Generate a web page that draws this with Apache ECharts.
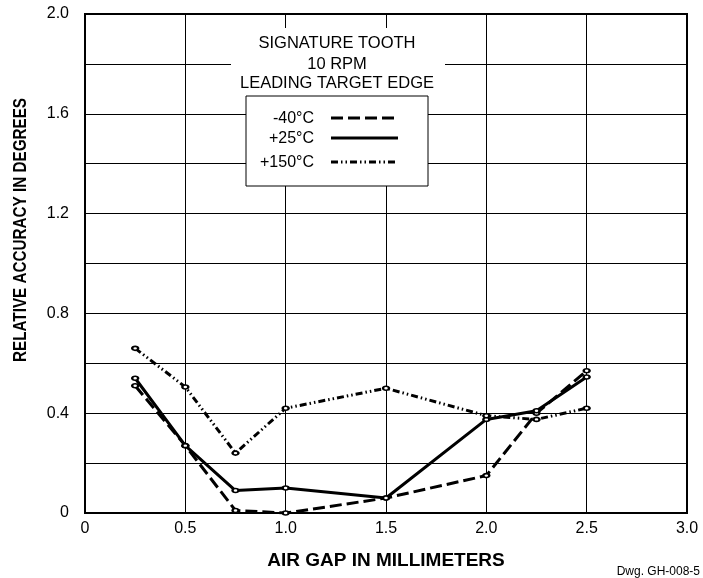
<!DOCTYPE html>
<html><head><meta charset="utf-8">
<script src="https://cdn.jsdelivr.net/npm/echarts@6/dist/echarts.min.js"></script>
<style>html,body{margin:0;padding:0;background:#fff}#c{width:703px;height:578px}</style>
</head><body><div id="c"></div>
<script>
const airGap = [0.25, 0.5, 0.75, 1.0, 1.5, 2.0, 2.25, 2.5];
const minus40 = [0.51, 0.27, 0.01, 0.00, 0.06, 0.15, 0.40, 0.57];
const plus25 = [0.54, 0.27, 0.09, 0.10, 0.06, 0.375, 0.41, 0.545];
const plus150 = [0.66, 0.505, 0.24, 0.42, 0.50, 0.39, 0.375, 0.42];
const seriesNames = ['-40°C', '+25°C', '+150°C'];
const titleLines = ['SIGNATURE TOOTH', '10 RPM', 'LEADING TARGET EDGE'];
const xTitle = 'AIR GAP IN MILLIMETERS';
const yTitle = 'RELATIVE ACCURACY IN DEGREES';
const dwgNote = 'Dwg. GH-008-5';

const F = '"Liberation Sans", Arial, sans-serif';
const pair = (ys) => airGap.map((x, i) => [x, ys[i]]);
const dashes = [[12, 5], null, [7, 3, 1.5, 3, 1.5, 3]];

// measure to condense the y title to the reference length
const cv = document.createElement('canvas').getContext('2d');
cv.font = 'bold 19px ' + F;
const yScale = 264 / cv.measureText(yTitle).width;

const chart = echarts.init(document.getElementById('c'), null, {renderer: 'canvas'});
const mk = (name, ys, dash) => ({
  name, type: 'line', data: pair(ys),
  symbol: 'emptyCircle', symbolSize: [6, 4],
  itemStyle: {color: '#000', borderWidth: 0.8},
  lineStyle: {color: '#000', width: 3, type: dash || 'solid'},
  z: 3, animation: false
});
const legY = [119, 139, 163];
const graphic = [
  {type: 'rect', shape: {x: 231, y: 28, width: 214, height: 68}, style: {fill: '#fff'}, z: 10},
  ...titleLines.map((t, i) => ({type: 'text', x: 337, y: [43, 64, 83][i], style: {text: t, font: '16.5px ' + F, fill: '#000', align: 'center', verticalAlign: 'middle'}, z: 11})),
  {type: 'rect', shape: {x: 246, y: 96, width: 182, height: 90}, style: {fill: '#fff', stroke: '#000', lineWidth: 1}, z: 10},
  ...seriesNames.map((t, i) => ({type: 'text', x: 314, y: legY[i], style: {text: t, font: '16px ' + F, fill: '#000', align: 'right', verticalAlign: 'middle'}, z: 11})),
  ...seriesNames.map((t, i) => ({type: 'line', shape: {x1: 331, y1: legY[i] - 1, x2: 398, y2: legY[i] - 1}, style: {stroke: '#000', lineWidth: 3, lineDash: dashes[i] || null}, z: 11})),
  {type: 'text', x: 21, y: 230, rotation: Math.PI / 2, scaleX: yScale, style: {text: yTitle, font: 'bold 19px ' + F, fill: '#000', align: 'center', verticalAlign: 'middle'}, z: 11},
  {type: 'text', x: 700, y: 572, style: {text: dwgNote, font: '12px ' + F, fill: '#000', align: 'right', verticalAlign: 'middle'}, z: 11}
];
chart.setOption({
  animation: false,
  grid: {left: 85, right: 16, top: 14, bottom: 65, show: true, borderColor: '#000', borderWidth: 2, backgroundColor: 'transparent'},
  xAxis: {
    type: 'value', min: 0, max: 3, interval: 0.5,
    name: xTitle, nameLocation: 'middle', nameGap: 38,
    nameTextStyle: {fontFamily: F, fontSize: 19, fontWeight: 'bold', color: '#000'},
    axisLine: {show: false}, axisTick: {show: false},
    axisLabel: {fontFamily: F, fontSize: 16, color: '#000', margin: 8, formatter: v => v === 0 ? '0' : v.toFixed(1)},
    splitLine: {show: true, lineStyle: {color: '#000', width: 1}}
  },
  yAxis: {
    type: 'value', min: 0, max: 2, interval: 0.2,
    axisLine: {show: false}, axisTick: {show: false},
    axisLabel: {fontFamily: F, fontSize: 16, color: '#000', margin: 16,
      formatter: v => { const k = Math.round(v * 10); if (k % 4 !== 0) return ''; return k === 0 ? '0' : (k / 10).toFixed(1); }},
    splitLine: {show: true, lineStyle: {color: '#000', width: 1}}
  },
  series: [mk(seriesNames[0], minus40, dashes[0]), mk(seriesNames[1], plus25, null), mk(seriesNames[2], plus150, dashes[2])],
  graphic
});
</script></body></html>
